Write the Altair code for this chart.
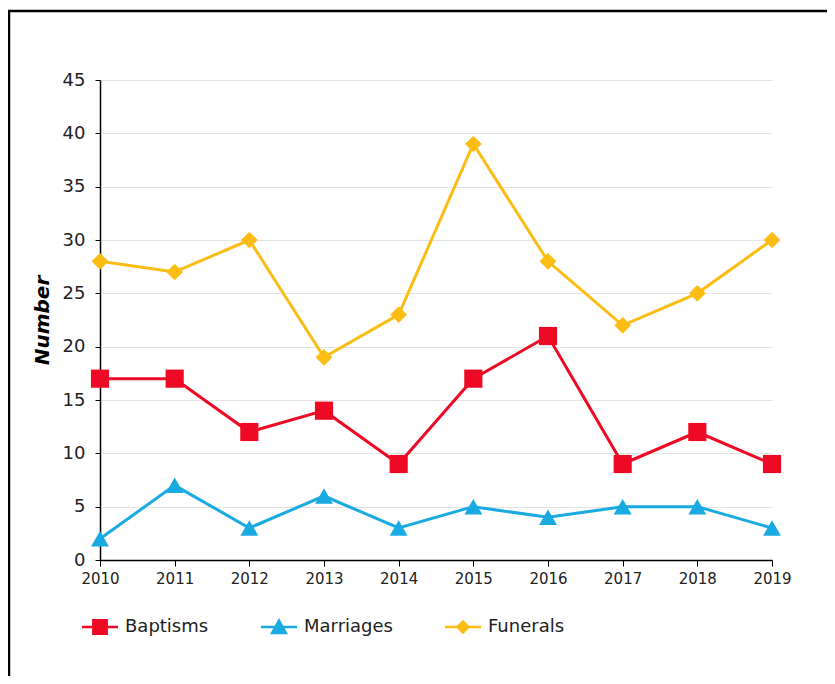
import altair as alt
import pandas as pd

years = [2010, 2011, 2012, 2013, 2014, 2015, 2016, 2017, 2018, 2019]
baptisms = [17, 17, 12, 14, 9, 17, 21, 9, 12, 9]
marriages = [2, 7, 3, 6, 3, 5, 4, 5, 5, 3]
funerals = [28, 27, 30, 19, 23, 39, 28, 22, 25, 30]

series_names = ["Baptisms", "Marriages", "Funerals"]
series_colors = ["#EE0A24", "#1AAAE2", "#FBBC14"]
y_ticks = [0, 5, 10, 15, 20, 25, 30, 35, 40, 45]

rows = []
for name, vals in zip(series_names, [baptisms, marriages, funerals]):
    for yr, v in zip(years, vals):
        rows.append({"year": yr, "series": name, "value": v})
df = pd.DataFrame(rows)

FONT = "DejaVu Sans"

x_enc = alt.X("year:Q", scale=alt.Scale(domain=[2010, 2019], nice=False, zero=False),
              axis=alt.Axis(values=years, format="d", title=None, grid=False,
                            labelFont=FONT, labelFontSize=15, labelColor="#222",
                            labelPadding=5, tickSize=6, tickColor="#000",
                            domainColor="#000", domainWidth=1.5, labelFlush=False))
y_enc = alt.Y("value:Q", scale=alt.Scale(domain=[0, 45], nice=False),
              axis=alt.Axis(values=y_ticks, title="Number", grid=True, gridColor="#E3E3E3",
                            gridWidth=1.2, labelFont=FONT, labelFontSize=18, labelColor="#222",
                            labelPadding=10, tickSize=5, tickColor="#000", domainColor="#000",
                            domainWidth=1.5, titleFont=FONT, titleFontSize=20,
                            titleFontWeight="bold", titleFontStyle="italic",
                            titleColor="#000", titlePadding=10))

base = alt.Chart(df)

marker_shapes = {"Baptisms": ("square", 330), "Marriages": ("triangle-up", 320), "Funerals": ("diamond", 280)}
layers = []
for name, col in zip(series_names, series_colors):
    shp, sz = marker_shapes[name]
    sub = base.transform_filter(alt.datum.series == name)
    layers.append(sub.mark_line(strokeWidth=3, color=col).encode(x=x_enc, y=y_enc))
    layers.append(sub.mark_point(shape=shp, size=sz, filled=True, opacity=1, color=col)
                  .encode(x="year:Q", y="value:Q"))

legend_paths = [
    "M-1,-0.07H1V0.07H-1Z M-0.44,-0.44H0.44V0.44H-0.44Z",
    "M-1,-0.07H1V0.07H-1Z M0,-0.5L0.5,0.4L-0.5,0.4Z",
    "M-1,-0.07H1V0.07H-1Z M0,-0.4L0.4,0L0,0.4L-0.4,0Z",
]
leg = alt.Legend(title=None, orient="none", legendX=-18, legendY=529,
                 direction="horizontal", symbolSize=1296,
                 symbolOpacity=1, symbolStrokeWidth=0,
                 labelFont=FONT, labelFontSize=18, labelColor="#222",
                 labelOffset=7, columnPadding=52)
legend_layer = base.mark_point(filled=True, opacity=0).encode(
    x="year:Q", y="value:Q",
    color=alt.Color("series:N", scale=alt.Scale(domain=series_names, range=series_colors), legend=leg),
    shape=alt.Shape("series:N", scale=alt.Scale(domain=series_names, range=legend_paths), legend=leg),
)

border = alt.Chart(pd.DataFrame({"a": [0]})).mark_rect(
    fill="transparent", stroke="#000", strokeWidth=2.5
).encode(x=alt.value(-91), x2=alt.value(900), y=alt.value(-69), y2=alt.value(900))

chart = alt.layer(border, *layers, legend_layer).properties(
    width=672, height=480,
    autosize=alt.AutoSizeParams(type="none"),
    padding={"left": 92, "top": 72, "right": 55, "bottom": 116},
    background="white",
).configure_view(stroke=None)

chart.save("out.html", embed_options={"renderer": "svg", "actions": False})
